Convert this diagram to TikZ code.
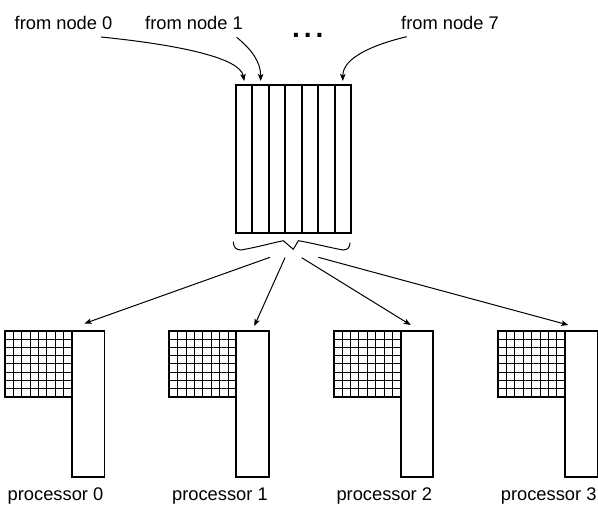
\documentclass[tikz,border=0pt]{standalone}
\usepackage{fontspec}
\setmainfont{Liberation Sans}
\usetikzlibrary{arrows.meta}
\newcommand\lblfont{\fontsize{18.3bp}{21bp}\selectfont}
\newcommand\dotsfont{\fontsize{28bp}{30bp}\selectfont\bfseries}
\tikzset{
  arr/.style={-{Stealth[length=7bp,width=5.5bp,inset=1.5bp]}, line width=1bp},
  boxline/.style={line width=1.9bp},
  gridline/.style={line width=1bp},
  lbl/.style={font=\lblfont, anchor=base, inner sep=0pt},
}
\begin{document}
\begin{tikzpicture}[x=1bp,y=-1bp]
\useasboundingbox (0,0) rectangle (598,505);

% top labels
\node[lbl] (n0) at (63.5,29.5) {from node 0};
\node[lbl] (n1) at (194,29.5) {from node 1};
\node[lbl] (n7) at (450,29.5) {from node 7};
\node[font=\dotsfont, inner sep=0pt] (dots) at (307.7,35.3) {.\hspace{4bp}.\hspace{4bp}.};

% buffer
\draw[boxline] (236,85) rectangle (351,233);
\foreach \k in {1,...,6} {
  \draw[boxline] ({236+\k*115/7},85) -- ({236+\k*115/7},233);
}
\coordinate (c0) at ({236+0.5*115/7},81);
\coordinate (c1) at ({236+1.5*115/7},81);
\coordinate (c6) at ({236+6.5*115/7},81);

% incoming curves
\coordinate (s0) at (101,37);
\coordinate (s1) at (236.7,37.3);
\coordinate (s7) at (406.7,36.7);
\draw[arr] (s0) .. controls (180,45) and (240,58) .. (c0);
\draw[arr] (s1) .. controls (252,50) and (c1|-0,62) .. (c1);
\draw[arr] (s7) .. controls (372,45) and (c6|-0,58) .. (c6);

% brace
\draw[line width=1bp] (233.3,241.7) .. controls (233.3,247) and (236,250) .. (241,250)
  .. controls (258,247) and (272,243) .. (283.3,240.7) -- (293.3,249.3) -- (298.3,240.7)
  .. controls (312,243) and (327,247) .. (343,250) .. controls (348,250) and (350,247) .. (350,242.7);

% processors
\foreach \i in {0,1,2,3} {
  \pgfmathsetmacro{\gx}{5+164.4*\i}
  \foreach \k in {1,...,7} {
    \draw[gridline] ({\gx+\k*67/8},331) -- ({\gx+\k*67/8},396.75);
    \draw[gridline] (\gx,{331+\k*65.75/8}) -- ({\gx+67},{331+\k*65.75/8});
  }
  \draw[boxline] (\gx,331) rectangle ({\gx+67},396.75);
  \draw[boxline] ({\gx+67},331) rectangle ({\gx+99.5},477);
  \node[lbl] (p\i) at ({\gx+50.5},500.5) {processor \i};
}

% outgoing arrows
\coordinate (t0) at (270,257.3);
\coordinate (t1) at (285,257.7);
\coordinate (t2) at (301.7,257.7);
\coordinate (t3) at (318.3,257.3);
\coordinate (e0) at (84.5,323.5);
\coordinate (e1) at (254.3,326);
\coordinate (e2) at (410.7,325);
\coordinate (e3) at (568.3,325);
\draw[arr] (t0) -- (e0);
\draw[arr] (t1) -- (e1);
\draw[arr] (t2) -- (e2);
\draw[arr] (t3) -- (e3);
\end{tikzpicture}
\end{document}
